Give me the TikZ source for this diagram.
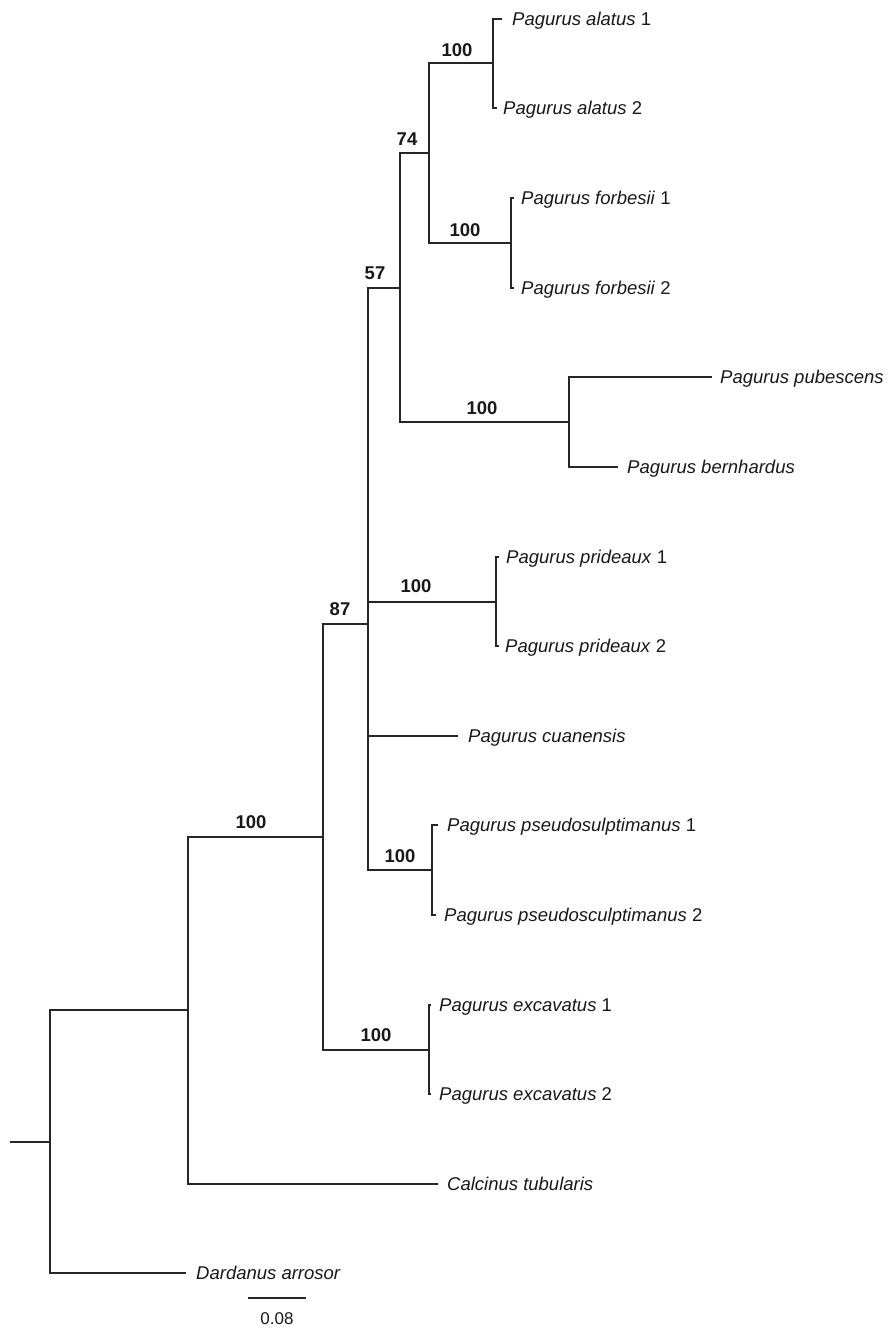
\documentclass[tikz,border=0pt]{standalone}
\usepackage{fontspec}
\setmainfont{Liberation Sans}
\begin{document}
\begin{tikzpicture}[x=1pt,y=-1pt,
  branch/.style={line width=1.8pt, draw=black!85},
  leaf/.style={anchor=base west, inner sep=0pt, font=\fontsize{18.5}{20}\selectfont, text=black!90},
  supp/.style={inner sep=0pt, font=\fontsize{18.5}{20}\selectfont\bfseries, text=black!90},
  scalelbl/.style={inner sep=0pt, font=\fontsize{17}{19}\selectfont, text=black!90}]
\useasboundingbox[fill=white] (0,0) rectangle (893,1331);

% internal nodes
\coordinate (r0) at (10,1142);
\coordinate (nR) at (50,1142);
\coordinate (nA) at (188,1010);
\coordinate (nB) at (323,837);
\coordinate (nC) at (368,624);
\coordinate (nD) at (400,288);
\coordinate (nE) at (429,153);
\coordinate (nF) at (493,63);
\coordinate (nG) at (511,243);
\coordinate (nH) at (569,422);
\coordinate (nI) at (496,602);
\coordinate (nJ) at (432,870);
\coordinate (nK) at (429,1050);

% leaf tips
\coordinate (tA1) at (502,19);
\coordinate (tA2) at (497,108);
\coordinate (tF1) at (514,198);
\coordinate (tF2) at (514,288);
\coordinate (tPu) at (712,377);
\coordinate (tBe) at (618,467);
\coordinate (tPr1) at (499,557);
\coordinate (tPr2) at (499,646);
\coordinate (tCu) at (458,736);
\coordinate (tPs1) at (438,825);
\coordinate (tPs2) at (436,915);
\coordinate (tEx1) at (431,1005);
\coordinate (tEx2) at (431,1094);
\coordinate (tCa) at (438,1184);
\coordinate (tDa) at (186,1273);

% branches
\draw[branch] (r0) -- (nR);
\draw[branch] (nR) |- (nA);
\draw[branch] (nR) |- (tDa);
\draw[branch] (nA) |- (nB);
\draw[branch] (nA) |- (tCa);
\draw[branch] (nB) |- (nC);
\draw[branch] (nB) |- (nK);
\draw[branch] (nC) |- (nD);
\draw[branch] (nC) |- (nI);
\draw[branch] (nC) |- (tCu);
\draw[branch] (nC) |- (nJ);
\draw[branch] (nD) |- (nE);
\draw[branch] (nD) |- (nH);
\draw[branch] (nE) |- (nF);
\draw[branch] (nE) |- (nG);
\draw[branch] (nF) |- (tA1);
\draw[branch] (nF) |- (tA2);
\draw[branch] (nG) |- (tF1);
\draw[branch] (nG) |- (tF2);
\draw[branch] (nH) |- (tPu);
\draw[branch] (nH) |- (tBe);
\draw[branch] (nI) |- (tPr1);
\draw[branch] (nI) |- (tPr2);
\draw[branch] (nJ) |- (tPs1);
\draw[branch] (nJ) |- (tPs2);
\draw[branch] (nK) |- (tEx1);
\draw[branch] (nK) |- (tEx2);

% leaf labels
\node[leaf] (lA1) at ([xshift=10pt,yshift=-6.5pt]tA1) {\textit{Pagurus alatus} 1};
\node[leaf] (lA2) at ([xshift=6pt,yshift=-6.5pt]tA2) {\textit{Pagurus alatus} 2};
\node[leaf] (lF1) at ([xshift=7pt,yshift=-6.5pt]tF1) {\textit{Pagurus forbesii} 1};
\node[leaf] (lF2) at ([xshift=7pt,yshift=-6.5pt]tF2) {\textit{Pagurus forbesii} 2};
\node[leaf] (lPu) at ([xshift=8pt,yshift=-6.5pt]tPu) {\textit{Pagurus pubescens}};
\node[leaf] (lBe) at ([xshift=9pt,yshift=-6.5pt]tBe) {\textit{Pagurus bernhardus}};
\node[leaf] (lPr1) at ([xshift=7pt,yshift=-6.5pt]tPr1) {\textit{Pagurus prideaux} 1};
\node[leaf] (lPr2) at ([xshift=6pt,yshift=-6.5pt]tPr2) {\textit{Pagurus prideaux} 2};
\node[leaf] (lCu) at ([xshift=10pt,yshift=-6.5pt]tCu) {\textit{Pagurus cuanensis}};
\node[leaf] (lPs1) at ([xshift=9pt,yshift=-6.5pt]tPs1) {\textit{Pagurus pseudosulptimanus} 1};
\node[leaf] (lPs2) at ([xshift=8pt,yshift=-6.5pt]tPs2) {\textit{Pagurus pseudosculptimanus} 2};
\node[leaf] (lEx1) at ([xshift=8pt,yshift=-6.5pt]tEx1) {\textit{Pagurus excavatus} 1};
\node[leaf] (lEx2) at ([xshift=8pt,yshift=-6.5pt]tEx2) {\textit{Pagurus excavatus} 2};
\node[leaf] (lCa) at ([xshift=9pt,yshift=-6.5pt]tCa) {\textit{Calcinus tubularis}};
\node[leaf] (lDa) at ([xshift=10pt,yshift=-6.5pt]tDa) {\textit{Dardanus arrosor}};

% support values
\node[supp] (sF) at (457,50) {100};
\node[supp] (sE) at (407,139) {74};
\node[supp] (sG) at (465,230) {100};
\node[supp] (sD) at (375,273) {57};
\node[supp] (sH) at (482,408) {100};
\node[supp] (sI) at (416,586) {100};
\node[supp] (sC) at (340,609) {87};
\node[supp] (sB) at (251,822) {100};
\node[supp] (sJ) at (400,856) {100};
\node[supp] (sK) at (376,1035) {100};

% scale bar
\coordinate (s1) at (248,1298);
\coordinate (s2) at (306,1298);
\draw[branch] (s1) -- (s2);
\node[scalelbl] (sl) at (277,1319) {0.08};
\end{tikzpicture}
\end{document}
